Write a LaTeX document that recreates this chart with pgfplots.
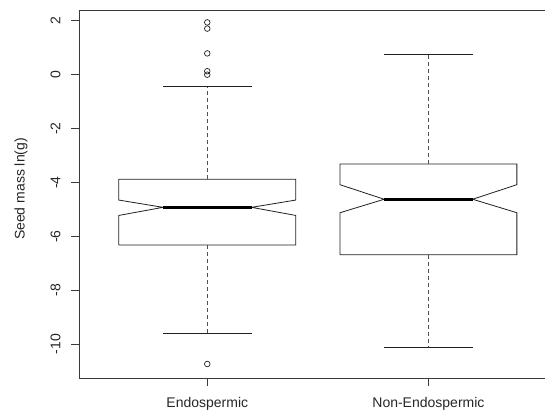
\documentclass[border=0pt]{standalone}
\usepackage{pgfplots}
\pgfplotsset{compat=1.18}
\usepackage{fontspec}
\setmainfont{Liberation Sans}
\definecolor{frame}{HTML}{3A3A3A}
\definecolor{boxc}{HTML}{202020}
\definecolor{whisk}{HTML}{505050}
\begin{document}
\begin{tikzpicture}
\begin{axis}[
  at={(0,0)}, anchor=south west,
  scale only axis,
  width=477.7bp, height=368bp,
  xmin=0.42, xmax=2.58,
  ymin=-11.25, ymax=2.40,
  axis line style={frame, line width=0.8bp},
  tick style={frame, line width=0.8bp},
  tick align=outside,
  major tick length=7.5bp,
  tick pos=left,
  xtick={1,2},
  xticklabels={Endospermic, Non-Endospermic},
  ytick={-10,-8,-6,-4,-2,0,2},
  /pgf/number format/assume math mode=true,
  every tick label/.append style={font=\fontsize{14bp}{16bp}\selectfont, text=black!85},
  yticklabel style={xshift=-11bp, rotate=90, anchor=base, inner sep=0pt},
  xticklabel style={anchor=base, inner sep=0pt, yshift=-22bp},
  ylabel={Seed mass ln(g)},
  every axis y label/.style={at={(axis description cs:0,0.5)}, xshift=-58bp, yshift=5bp, rotate=90, anchor=center, font=\fontsize{14bp}{16bp}\selectfont, text=black!85},
  clip=false,
]
% Endospermic notched box
\addplot[boxc, line width=0.8bp] coordinates {
  (0.6,-6.32) (1.4,-6.32) (1.4,-5.22) (1.2,-4.92) (1.4,-4.65) (1.4,-3.88)
  (0.6,-3.88) (0.6,-4.65) (0.8,-4.92) (0.6,-5.22) (0.6,-6.32)};
\addplot[black, line width=2.6bp] coordinates {(0.8,-4.92) (1.2,-4.92)};
\addplot[whisk, line width=0.8bp, dash pattern=on 4bp off 3bp] coordinates {(1,-3.88) (1,-0.42)};
\addplot[whisk, line width=0.8bp, dash pattern=on 4bp off 3bp] coordinates {(1,-6.32) (1,-9.60)};
\addplot[boxc, line width=0.8bp] coordinates {(0.8,-0.42) (1.2,-0.42)};
\addplot[boxc, line width=0.8bp] coordinates {(0.8,-9.60) (1.2,-9.60)};
\addplot[only marks, mark=o, mark size=2.8bp, mark options={boxc, line width=0.7bp}] coordinates {
  (1,1.94) (1,1.71) (1,0.79) (1,0.13) (1,0.0) (1,-10.73)};
% Non-Endospermic notched box
\addplot[boxc, line width=0.8bp] coordinates {
  (1.6,-6.68) (2.4,-6.68) (2.4,-5.12) (2.2,-4.62) (2.4,-4.08) (2.4,-3.31)
  (1.6,-3.31) (1.6,-4.08) (1.8,-4.62) (1.6,-5.12) (1.6,-6.68)};
\addplot[black, line width=2.6bp] coordinates {(1.8,-4.62) (2.2,-4.62)};
\addplot[whisk, line width=0.8bp, dash pattern=on 4bp off 3bp] coordinates {(2,-3.31) (2,0.76)};
\addplot[whisk, line width=0.8bp, dash pattern=on 4bp off 3bp] coordinates {(2,-6.68) (2,-10.12)};
\addplot[boxc, line width=0.8bp] coordinates {(1.8,0.76) (2.2,0.76)};
\addplot[boxc, line width=0.8bp] coordinates {(1.8,-10.12) (2.2,-10.12)};
\end{axis}
\pgfresetboundingbox
\path[use as bounding box] (-79bp,-34bp) rectangle (466bp,378bp);
\end{tikzpicture}
\end{document}
